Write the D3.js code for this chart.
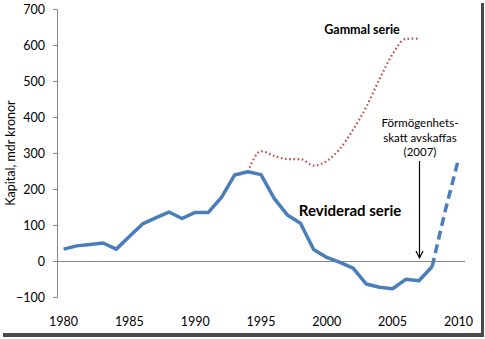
<!DOCTYPE html>
<html><head><meta charset="utf-8">
<script src="https://cdn.jsdelivr.net/npm/d3@7"></script>
<style>body{margin:0;background:#fff}svg{display:block}</style>
</head><body>
<svg id="c" width="485" height="339"></svg>
<script>
const years = [1980,1981,1982,1983,1984,1985,1986,1987,1988,1989,1990,1991,1992,1993,1994,1995,1996,1997,1998,1999,2000,2001,2002,2003,2004,2005,2006,2007,2008];
const revised = [33,42,46,50,33,68,103,120,136,118,135,135,177,239,248,240,174,128,105,32,10,-4,-20,-64,-73,-77,-51,-55,-16];
const projYears = [2008,2009,2010];
const projected = [-16,140,282];
const oldYears = [1994,1995,1996,1997,1998,1999,2000,2001,2002,2003,2004,2005,2006,2007];
const oldSeries = [248,305,292,283,283,265,278,312,365,428,505,575,617,618];
const yTicks = [-100,0,100,200,300,400,500,600,700];
const xTicks = [1980,1985,1990,1995,2000,2005,2010];

const svg = d3.select("#c");
const font = "Lato, 'Open Sans', sans-serif";

// frame with shadow
const sh = svg.append("g");
[["#bdbdbd",3],["#8a8a8a",2],["#4a4a4a",1]].forEach(([c,o])=>{
  sh.append("rect").attr("x",3+o-1).attr("y",3+o-1).attr("width",481-o+1).attr("height",334-o+1).attr("fill",c);
});
svg.append("rect").attr("x",0).attr("y",0).attr("width",481).attr("height",333).attr("fill","#fff");

const x = d3.scaleLinear().domain([1979.5,2010.5]).range([57,465]);
const y = d3.scaleLinear().domain([-100,700]).range([297,9]);

// y axis
const yAxis = svg.append("g").attr("transform","translate(57,0)")
  .call(d3.axisLeft(y).tickValues(yTicks).tickSize(4).tickPadding(8).tickFormat(d3.format("d")));
yAxis.select(".domain").attr("stroke","#868686").attr("d","M-4,9.5H0.5V297.5H-4");
yAxis.selectAll(".tick line").attr("stroke","#868686");
yAxis.selectAll(".tick text").attr("font-family",font).attr("font-size",12.5).attr("fill","#000");

// zero line (category axis)
svg.append("line").attr("x1",57).attr("x2",465).attr("y1",Math.round(y(0))+0.5).attr("y2",Math.round(y(0))+0.5)
  .attr("stroke","#868686").attr("stroke-width",1);

// x labels
svg.append("g").selectAll("text").data(xTicks).join("text")
  .attr("x",d=>x(d)).attr("y",326).attr("text-anchor","middle")
  .attr("font-family",font).attr("font-size",12.5).attr("fill","#000").text(d=>d);

// y title
svg.append("text").attr("transform","translate(15,153) rotate(-90)").attr("text-anchor","middle")
  .attr("font-family",font).attr("font-size",12.5).attr("fill","#000").text("Kapital, mdr kronor");

// old series (dotted, smoothed)
const oldLine = d3.line().x((d,i)=>x(oldYears[i])).y(d=>y(d)).curve(d3.curveMonotoneX);
svg.append("path").attr("d",oldLine(oldSeries)).attr("fill","none")
  .attr("stroke","#c0504d").attr("stroke-width",2.2).attr("stroke-dasharray","1.6,2.6");

// revised series
const revLine = d3.line().x((d,i)=>x(years[i])).y(d=>y(d));
svg.append("path").attr("d",revLine(revised)).attr("fill","none")
  .attr("stroke","#4a7ebb").attr("stroke-width",3.5).attr("stroke-linejoin","round");

// projected dashed
const projLine = d3.line().x((d,i)=>x(projYears[i])).y(d=>y(d));
svg.append("path").attr("d",projLine(projected)).attr("fill","none")
  .attr("stroke","#4a7ebb").attr("stroke-width",3.5).attr("stroke-dasharray","9,5");

// labels
svg.append("text").attr("x",362).attr("y",34).attr("text-anchor","middle")
  .attr("font-family",font).attr("font-weight","bold").attr("font-size",12.5).attr("fill","#000").text("Gammal serie");
svg.append("text").attr("x",350).attr("y",216).attr("text-anchor","middle")
  .attr("font-family",font).attr("font-weight","bold").attr("font-size",15).attr("fill","#000").text("Reviderad serie");

const ann = ["Förmögenhets-","skatt avskaffas","(2007)"];
svg.append("g").selectAll("text").data(ann).join("text")
  .attr("x",420).attr("y",(d,i)=>127+i*14.5).attr("text-anchor","middle")
  .attr("font-family",font).attr("font-size",11.5).attr("fill","#000").text(d=>d);

// arrow
const ax = Math.round(x(2007))+0.5;
svg.append("line").attr("x1",ax).attr("x2",ax).attr("y1",161).attr("y2",257).attr("stroke","#000").attr("stroke-width",1.2);
svg.append("path").attr("d",`M${ax-3.5},${251}L${ax},${258}L${ax+3.5},${251}`).attr("fill","none").attr("stroke","#000").attr("stroke-width",1.2);
</script>
</body></html>
